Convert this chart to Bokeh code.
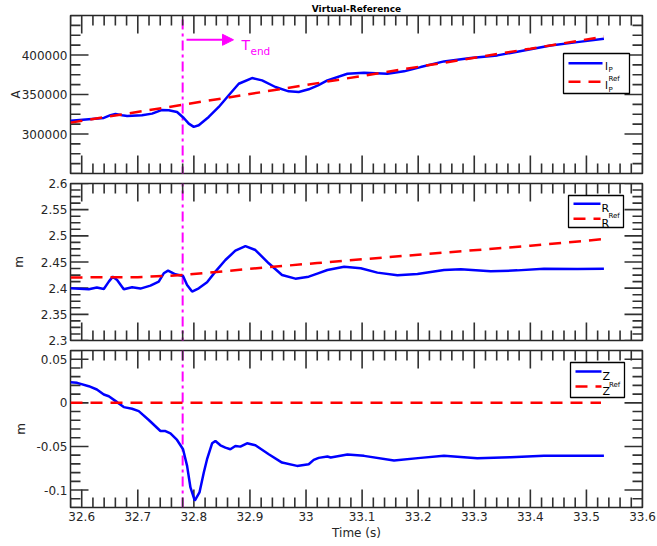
from bokeh.plotting import figure
from bokeh.layouts import column
from bokeh.models import (Range1d, FixedTicker, CustomJSTickFormatter, LinearAxis, Label,
                          Arrow, NormalHead, Whisker, ColumnDataSource, Title)
from bokeh.embed import file_html
from bokeh.resources import INLINE

# ---------------- data ----------------
t_ip = [32.580, 32.6126, 32.6394, 32.6513, 32.6602, 32.672, 32.681, 32.7076, 32.7255, 32.7422,
        32.7552, 32.770, 32.782, 32.7909, 32.7998, 32.8087, 32.8265, 32.8444, 32.8622, 32.880,
        32.9037, 32.9216, 32.9454, 32.9691, 32.987, 33.0048, 33.0214, 33.0381, 33.0738, 33.1034,
        33.145, 33.1747, 33.2044, 33.246, 33.2935, 33.3411, 33.3886, 33.4361, 33.4837, 33.5312]
ip = [316800, 318700, 320300, 323800, 325300, 323700, 322900, 323700, 325800, 330300,
      330000, 327900, 320300, 313100, 309000, 311100, 321600, 334200, 349000, 363600,
      370800, 367900, 359500, 354000, 353200, 356600, 361600, 367900, 376300, 377500,
      376300, 379300, 384700, 391900, 396100, 399500, 405800, 412100, 416300, 420500]
t_ip_ref = [32.580, 32.780, 33.000, 33.200, 33.400, 33.531]
ip_ref = [314400, 337000, 362000, 385000, 408000, 423300]

t_r = [32.580, 32.6126, 32.627, 32.6394, 32.6483, 32.6554, 32.6631, 32.675, 32.6898, 32.7047,
       32.7225, 32.7374, 32.7463, 32.754, 32.767, 32.7807, 32.7879, 32.7968, 32.8087, 32.8235,
       32.8384, 32.8562, 32.874, 32.8919, 32.9097, 32.9335, 32.9572, 32.981, 33.0048, 33.0214,
       33.0381, 33.068, 33.0976, 33.1273, 33.163, 33.1987, 33.246, 33.276, 33.3292, 33.3768,
       33.4243, 33.4837, 33.5312]
r = [2.3998, 2.3979, 2.4011, 2.3985, 2.4125, 2.4220, 2.4157, 2.3979, 2.4017, 2.3992,
     2.4049, 2.4125, 2.4284, 2.4335, 2.4265, 2.4233, 2.4062, 2.3934, 2.3998, 2.4112,
     2.4316, 2.4538, 2.4716, 2.4805, 2.4729, 2.4475, 2.4252, 2.4182, 2.4220, 2.4284,
     2.4348, 2.4411, 2.4379, 2.4297, 2.4246, 2.4271, 2.4348, 2.4360, 2.4322, 2.4340,
     2.4373, 2.4367, 2.4373]
t_r_ref = [32.580, 32.700, 32.780, 32.900, 33.020, 33.200, 33.400, 33.526]
r_ref = [2.4205, 2.4210, 2.4250, 2.4370, 2.4480, 2.4640, 2.4810, 2.4933]

t_z = [32.580, 32.5919, 32.6126, 32.627, 32.6394, 32.6483, 32.6631, 32.675, 32.6898, 32.7017,
       32.7196, 32.7404, 32.7493, 32.7582, 32.770, 32.7807, 32.7879, 32.7939, 32.8016, 32.810,
       32.8177, 32.8235, 32.8325, 32.8384, 32.8473, 32.8562, 32.8651, 32.874, 32.8829, 32.8948,
       32.9097, 32.9335, 32.9572, 32.984, 33.0048, 33.0137, 33.0226, 33.0381, 33.044, 33.0738,
       33.1034, 33.1569, 33.2044, 33.246, 33.3054, 33.3649, 33.4243, 33.4837, 33.5312]
z = [0.0236, 0.0229, 0.0191, 0.0153, 0.0096, 0.0076, 0.0008, -0.0049, -0.0068, -0.0095,
     -0.0197, -0.0323, -0.0323, -0.0350, -0.0426, -0.0532, -0.0723, -0.0970, -0.1122, -0.1027,
     -0.0799, -0.0646, -0.0464, -0.0437, -0.0487, -0.0513, -0.0532, -0.0494, -0.0502, -0.0464,
     -0.0487, -0.0589, -0.0685, -0.0723, -0.0704, -0.0654, -0.0631, -0.0616, -0.0627, -0.0593,
     -0.0608, -0.0662, -0.0631, -0.0608, -0.0635, -0.0624, -0.0608, -0.0608, -0.0608]
t_z_ref = [32.580, 33.526]
z_ref = [0.0, 0.0]

t_end = 32.78

x_range = (32.58, 33.6)
x_major = [32.6, 32.7, 32.8, 32.9, 33.0, 33.1, 33.2, 33.3, 33.4, 33.5, 33.6]
ip_range = (250000, 450000)
ip_major = [300000, 350000, 400000]
r_range = (2.3, 2.6)
r_major = [2.3, 2.35, 2.4, 2.45, 2.5, 2.55, 2.6]
z_range = (-0.12, 0.06)
z_major = [-0.1, -0.05, 0.0, 0.05]

# ---------------- styling ----------------
FONT = "DejaVu Sans"
AX = "#262626"
BLUE = "#0000ff"
RED = "#ff0000"
MAG = "#ff00ff"
LW = 2.5
DASH = "12 8"
DASHDOT = "10 4 3 4"
TICK_MAJ, TICK_MIN = 18, 10

FL, FR = 70, 642         # page px of frame left/right
FW = FR - FL
X0, X1 = x_range


def fx(px):
    return X0 + (px - FL) / FW * (X1 - X0)


def make_fy(top, bottom, y0, y1):
    return lambda py: y1 - (py - top) / (bottom - top) * (y1 - y0)


def minor_list(lo, hi, step):
    n = int(round((hi - lo) / step))
    return [round(lo + i * step, 6) for i in range(n + 1)]


fmt = CustomJSTickFormatter(code="return String(parseFloat(tick.toFixed(4)));")


def style_axis(ax, ticker):
    ax.ticker = ticker
    ax.major_tick_in = 0
    ax.major_tick_out = 0
    ax.minor_tick_in = 0
    ax.minor_tick_out = 0
    ax.axis_line_color = None
    ax.formatter = fmt
    ax.major_label_text_font = FONT
    ax.major_label_text_color = AX
    ax.major_label_text_font_size = "12px"
    ax.major_label_standoff = 3
    ax.axis_label_text_font = FONT
    ax.axis_label_text_font_style = "normal"
    ax.axis_label_text_color = AX
    ax.axis_label_text_font_size = "12px"


def add_ticks(p, yr, ymaj, ystep, frame_h):
    xmin = [v for v in minor_list(X0, X1, 0.02) if all(abs(v - m) > 1e-6 for m in x_major)]
    ymin = [v for v in minor_list(yr[0], yr[1], ystep) if all(abs(v - m) > 1e-9 for m in ymaj)]
    sy = (yr[1] - yr[0]) / frame_h
    sx = (X1 - X0) / FW
    x0s, y0s, x1s, y1s = [], [], [], []
    for xs, ln in ((x_major, TICK_MAJ), (xmin, TICK_MIN)):
        for v in xs:
            x0s += [v, v]
            x1s += [v, v]
            y0s += [yr[0], yr[1]]
            y1s += [yr[0] + ln * sy, yr[1] - ln * sy]
    for ys, ln in ((ymaj, TICK_MAJ), (ymin, TICK_MIN)):
        for v in ys:
            y0s += [v, v]
            y1s += [v, v]
            x0s += [X0, X1]
            x1s += [X0 + ln * sx, X1 - ln * sx]
    src = ColumnDataSource(dict(x0=x0s, y0=y0s, x1=x1s, y1=y1s))
    p.segment(x0="x0", y0="y0", x1="x1", y1="y1", source=src,
              line_color="#303030", line_width=1.6)


def make_panel(yr, ymaj, ystep, frame_h, bt, bb, xlabels, ylabel, ylab_standoff, title=None):
    p = figure(frame_width=FW, frame_height=frame_h, x_range=Range1d(*x_range),
               y_range=Range1d(*yr), output_backend="svg", toolbar_location=None,
               min_border_left=FL, min_border_right=15, min_border_top=bt,
               min_border_bottom=bb, x_axis_location=None, y_axis_location=None)
    if title:
        p.title = Title(text=title, align="center", text_font=FONT, text_font_size="9px",
                        text_font_style="bold", text_color="black", standoff=3, offset=0)
    p.outline_line_color = AX
    p.outline_line_width = 1.5
    p.grid.visible = False
    p.background_fill_color = "white"
    p.border_fill_color = "white"
    if xlabels:
        bx = LinearAxis()
        style_axis(bx, FixedTicker(ticks=x_major))
        bx.major_label_standoff = 4
        bx.axis_label = "Time (s)"
        bx.axis_label_standoff = 2
        p.add_layout(bx, "below")
    ly = LinearAxis()
    style_axis(ly, FixedTicker(ticks=ymaj))
    ly.axis_label = ylabel
    ly.axis_label_standoff = ylab_standoff
    p.add_layout(ly, "left")
    add_ticks(p, yr, ymaj, ystep, frame_h)
    return p


def add_vline(p, fy, top_px, bottom_px):
    src = ColumnDataSource(dict(base=[t_end], lower=[fy(bottom_px)], upper=[fy(top_px)]))
    w = Whisker(base="base", lower="lower", upper="upper", source=src, dimension="height",
                line_color=MAG, line_width=2, line_dash=DASHDOT, lower_head=None, upper_head=None)
    p.add_layout(w)


def add_legend(p, fy, box, y_blue, y_red, line_x, name_x, sup_x, name, sub, name_size,
               base_blue, base_red, sup_base, sub_base_blue=None, sub_base_red=None):
    l, r_, t, b = box
    p.quad(left=fx(l), right=fx(r_), top=fy(t), bottom=fy(b), fill_color="white",
           line_color="black", line_width=1.3)
    p.line([fx(line_x[0]), fx(line_x[1])], [fy(y_blue)] * 2, line_color=BLUE, line_width=LW)
    p.line([fx(line_x[0]), fx(line_x[1])], [fy(y_red)] * 2, line_color=RED, line_width=LW,
           line_dash=DASH)
    for base in (base_blue, base_red):
        p.add_layout(Label(x=fx(name_x), y=fy(base), text=name, text_font=FONT,
                           text_font_size=name_size, text_color="black",
                           text_baseline="alphabetic", text_align="left"))
    p.add_layout(Label(x=fx(sup_x), y=fy(sup_base), text="Ref", text_font=FONT,
                       text_font_size="7px", text_color="black",
                       text_baseline="alphabetic", text_align="left"))
    if sub:
        for sb in (sub_base_blue, sub_base_red):
            p.add_layout(Label(x=fx(sup_x), y=fy(sb), text=sub, text_font=FONT,
                               text_font_size="7px", text_color="black",
                               text_baseline="alphabetic", text_align="left"))


# ---------------- panel 1 : Ip ----------------
fy1 = make_fy(15, 173, *ip_range)
p1 = make_panel(ip_range, ip_major, 12500, 158, 15, 3, False, "A", -4, title="Virtual-Reference")
p1.line(t_ip, ip, line_color=BLUE, line_width=LW)
p1.line(t_ip_ref, ip_ref, line_color=RED, line_width=LW, line_dash=DASH)
add_vline(p1, fy1, 15, 176)
p1.add_layout(Arrow(x_start=fx(186), y_start=fy1(39.3), x_end=fx(233), y_end=fy1(39.3),
                    line_color=MAG, line_width=2,
                    end=NormalHead(size=11, fill_color=MAG, line_color=MAG)))
p1.add_layout(Label(x=fx(241), y=fy1(44), text="T", text_font=FONT, text_font_size="14px",
                    text_color=MAG, text_baseline="alphabetic", text_align="left"))
p1.add_layout(Label(x=fx(250), y=fy1(50), text="end", text_font=FONT, text_font_size="10.5px",
                    text_color=MAG, text_baseline="alphabetic", text_align="left"))
add_legend(p1, fy1, (563, 629, 53, 93), 62.7, 81.3, (568, 602), 604.5, 608, "I", "P", "10px",
           65.5, 84.7, 78.7, 69.5, 89.3)

# ---------------- panel 2 : R ----------------
fy2 = make_fy(183, 340, *r_range)
p2 = make_panel(r_range, r_major, 0.0125, 157, 7, 7, False, "m", 12)
p2.line(t_r, r, line_color=BLUE, line_width=LW)
p2.line(t_r_ref, r_ref, line_color=RED, line_width=LW, line_dash=DASH)
add_vline(p2, fy2, 176, 347)
add_legend(p2, fy2, (568, 623, 195, 227), 203.3, 218.3, (573, 600), 601, 608, "R", None, "11px",
           207.5, 222.8, 215)

# ---------------- panel 3 : Z ----------------
fy3 = make_fy(350, 507, *z_range)
p3 = make_panel(z_range, z_major, 0.01, 157, 3, 34, True, "m", 5)
p3.line(t_z, z, line_color=BLUE, line_width=LW)
p3.line(t_z_ref, z_ref, line_color=RED, line_width=LW, line_dash=DASH)
add_vline(p3, fy3, 347, 507)
add_legend(p3, fy3, (570, 624, 362, 397), 371, 386, (575, 601), 602, 608.5, "Z", None, "11px",
           375.5, 391, 384.3)

layout = column(p1, p2, p3, spacing=0)
open("out.html", "w").write(file_html(layout, INLINE))
